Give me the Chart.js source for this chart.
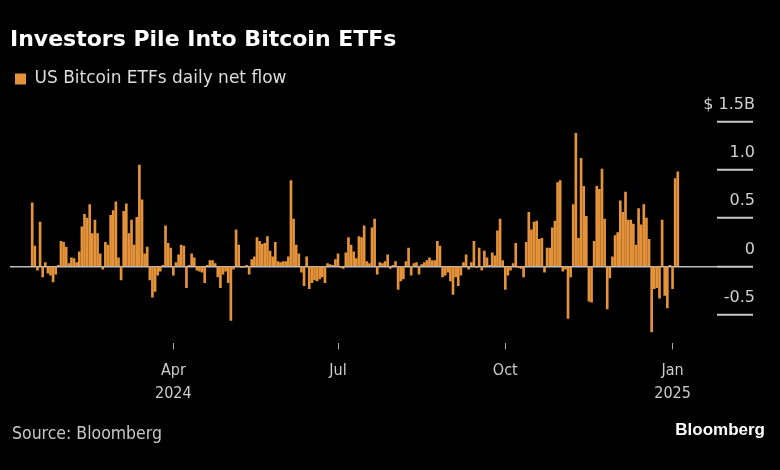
<!DOCTYPE html>
<html><head><meta charset="utf-8">
<script src="https://cdn.jsdelivr.net/npm/chart.js@4.4.1/dist/chart.umd.min.js"></script>
<style>
html,body{margin:0;padding:0;background:#000;}
#wrap{position:relative;width:780px;height:470px;background:#000;overflow:hidden;}
#c{position:absolute;left:0;top:0;}
.src{position:absolute;left:12px;top:423px;line-height:20px;font-size:17.5px;font-family:"DejaVu Sans Condensed","DejaVu Sans",sans-serif;color:#c8c8c8;}
.brand{position:absolute;right:15px;top:420px;line-height:20px;font-size:17px;font-weight:bold;font-family:"Liberation Sans",Arial,sans-serif;color:#fff;}
</style></head>
<body><div id="wrap"><canvas id="c" width="780" height="470"></canvas>
<div class="src">Source: Bloomberg</div><div class="brand">Bloomberg</div></div>
<script>
const chartTitle = 'Investors Pile Into Bitcoin ETFs';
const seriesName = 'US Bitcoin ETFs daily net flow';
const firstDay = '2024-01-11';
const marketHolidays = ['2024-01-15','2024-02-19','2024-03-29','2024-05-27','2024-06-19','2024-07-04','2024-09-02','2024-11-28','2024-12-25','2025-01-01'];
// daily net flow, $ billions, one value per trading day
const flows = [
  0.66, 0.21, -0.04, 0.46, -0.11, 0.04, -0.07, -0.09, -0.16, -0.08,
  0.01, 0.26, 0.25, 0.20, 0.03, 0.09, 0.08, 0.04, 0.15, 0.41,
  0.54, 0.50, 0.64, 0.34, 0.48, 0.34, 0.13, -0.03, 0.25, 0.22,
  0.53, 0.58, 0.67, 0.09, -0.14, 0.57, 0.65, 0.34, 0.48, 0.22,
  0.51, 1.05, 0.69, 0.13, 0.20, -0.14, -0.32, -0.26, -0.09, -0.05,
  0.01, 0.42, 0.24, 0.19,
  -0.09, 0.04, 0.12, 0.22, 0.21, -0.22, 0.01, 0.13, 0.09, -0.04,
  -0.05, -0.06, -0.17, 0.01, 0.06, 0.06, 0.03, -0.11, -0.22, -0.08,
  -0.05, -0.17, -0.56, -0.03, 0.38, 0.22, -0.01, -0.01, 0.01, -0.08,
  0.07, 0.10, 0.30, 0.26, 0.23, 0.24, 0.31, 0.16, 0.10, 0.25,
  0.05, 0.04, 0.05, 0.05, 0.10, 0.89,
  0.49, 0.22, 0.13, -0.06, -0.20, 0.10, -0.23, -0.17, -0.14, -0.15,
  -0.13, -0.11, -0.17, 0.03, 0.02, 0.01, 0.07, 0.13, -0.01, -0.02,
  0.14, 0.30, 0.22, 0.15, 0.08, 0.31, 0.30, 0.42, 0.05, 0.03,
  0.40, 0.49, -0.08, 0.04, 0.03, 0.05, 0.12, -0.02, 0.01, 0.05,
  -0.24, -0.15, -0.13, 0.05, 0.19, -0.09, 0.03, 0.04, -0.08, 0.02,
  0.04, 0.06, 0.09, 0.06, 0.06, 0.26, 0.21, -0.11, -0.09, -0.06,
  -0.15, -0.29, -0.11, -0.20, -0.09, 0.04, 0.12, -0.03, 0.04, 0.26,
  -0.01, 0.19, -0.04, 0.16, 0.09, 0.01, 0.14, 0.11, 0.37, 0.49,
  0.06, -0.24, -0.09, -0.04, 0.03, 0.24, -0.01, -0.02, -0.11, 0.25,
  0.56, 0.38, 0.46, 0.47, 0.28, 0.29, -0.06, 0.19, 0.19, 0.40,
  0.47, 0.87, 0.89, -0.05, -0.03, -0.54, -0.11, 0.64, 1.38, 0.29,
  1.12, 0.83, 0.52, -0.36, -0.37, 0.26, 0.83, 0.80, 1.01, 0.49,
  -0.44, -0.12, 0.10, 0.32, 0.35, 0.68, 0.56, 0.77, 0.48, 0.48,
  0.44, 0.22, 0.60, 0.43, 0.64, 0.50, 0.28, -0.68, -0.23, -0.22,
  -0.33, 0.48, -0.30, -0.43, 0.01, -0.23, 0.91, 0.98
];
const xTickDates = ['2024-04-01','2024-07-01','2024-10-01','2025-01-01'];
const xTickLabels = [['Apr','2024'], 'Jul', 'Oct', ['Jan','2025']];
const yTickValues = [-0.5, 0, 0.5, 1.0, 1.5];
const yTickLabels = ['-0.5', '0', '0.5', '1.0', '$ 1.5B'];

// trading-day calendar (categories)
const tradingDays = [];
(function(){
  const d = new Date(firstDay + 'T00:00:00Z');
  while (tradingDays.length < flows.length) {
    const wd = d.getUTCDay();
    const s = d.toISOString().slice(0, 10);
    if (wd !== 0 && wd !== 6 && !marketHolidays.includes(s)) tradingDays.push(s);
    d.setUTCDate(d.getUTCDate() + 1);
  }
})();
const xTickIdx = xTickDates.map(s => tradingDays.findIndex(t => t >= s));

const ORANGE = '#E5933A';
const SANS = '"DejaVu Sans", "Liberation Sans", sans-serif';

new Chart(document.getElementById('c'), {
  type: 'bar',
  data: {
    datasets: [{
      label: seriesName,
      data: flows.map((v, i) => ({ x: i, y: v })),
      backgroundColor: ORANGE,
      borderWidth: 0,
      barThickness: 2
    }]
  },
  options: {
    responsive: false,
    animation: false,
    devicePixelRatio: 1,
    layout: { padding: { left: 10, right: 27, top: 0, bottom: 55.5 } },
    plugins: {
      title: {
        display: true, text: chartTitle, align: 'start', color: '#ffffff',
        font: { family: SANS, size: 22, weight: 'bold', lineHeight: 1.2 },
        padding: { top: 27, bottom: 12 }
      },
      legend: {
        display: true, align: 'start',
        labels: { color: '#dddddd', font: { family: SANS, size: 17 }, boxWidth: 11, boxHeight: 11, padding: 5 }
      },
      tooltip: { enabled: false }
    },
    scales: {
      x: {
        type: 'linear', min: -8.5, max: 262, offset: false,
        border: { display: false },
        grid: { offset: false, drawOnChartArea: false, drawTicks: true, tickLength: 6, tickColor: '#aaaaaa', tickWidth: 1 },
        afterBuildTicks: s => { s.ticks = xTickIdx.map(v => ({ value: v })); },
        ticks: {
          autoSkip: false, maxRotation: 0, padding: 9.5, color: '#cccccc',
          font: { family: '"DejaVu Sans Condensed", "DejaVu Sans", sans-serif', size: 16, lineHeight: 1.44 },
          callback: (v, i) => xTickLabels[i]
        }
      },
      y: {
        position: 'right', min: -0.799, max: 1.753, z: 1,
        border: { display: false },
        grid: {
          offset: false, drawOnChartArea: true,
          color: c => (c.tick && c.tick.value === 0) ? '#bdbdbd' : 'rgba(0,0,0,0)',
          lineWidth: 1.5, drawTicks: true, tickLength: 36, tickColor: '#c8c8c8', tickWidth: 2
        },
        afterBuildTicks: s => { s.ticks = yTickValues.map(v => ({ value: v })); },
        afterFit: s => { s.width = 36; },
        ticks: {
          mirror: true, crossAlign: 'near', padding: 38, labelOffset: -17, color: '#d0d0d0',
          font: { family: SANS, size: 16 },
          callback: (v, i) => yTickLabels[i]
        }
      }
    }
  }
});
</script></body></html>
